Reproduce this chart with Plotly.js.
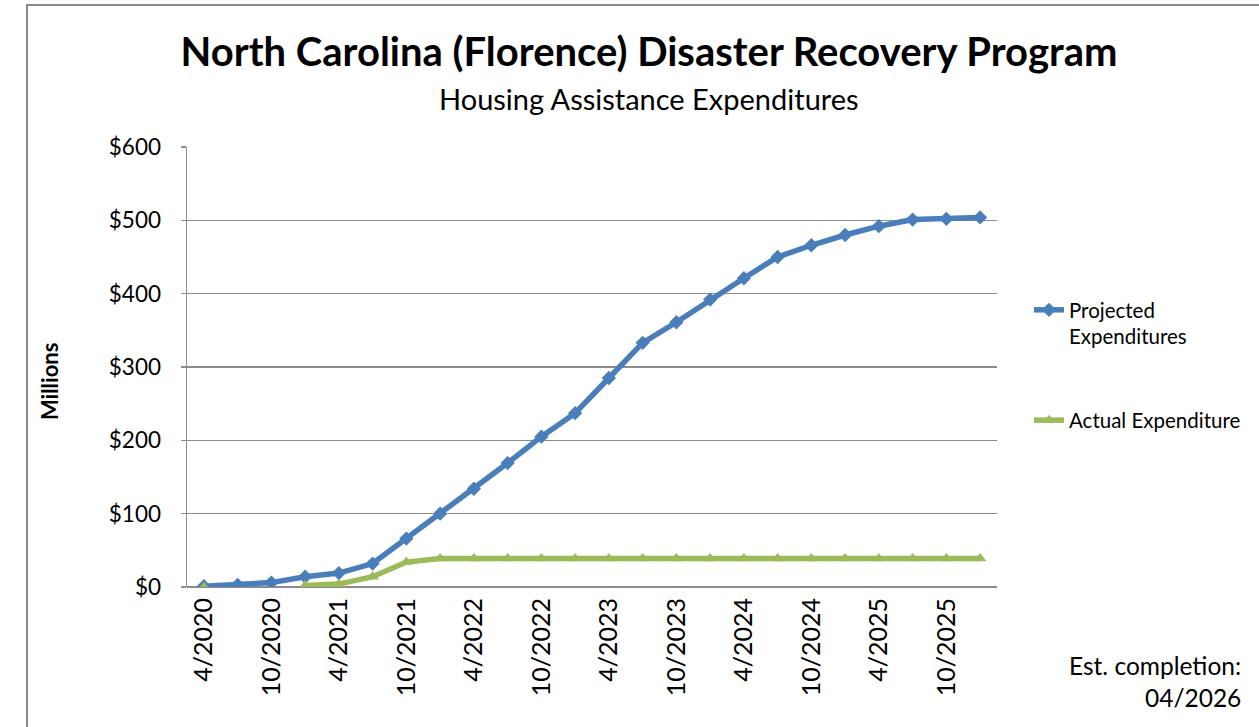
<!DOCTYPE html>
<html>
<head>
<meta charset="utf-8">
<script src="https://cdn.plot.ly/plotly-3.0.1.min.js"></script>
<style>html,body{margin:0;padding:0;background:#fff;}#chart{width:1259px;height:727px;}</style>
</head>
<body>
<div id="chart"></div>
<script>
const quarters = ['4/2020','7/2020','10/2020','1/2021','4/2021','7/2021','10/2021','1/2022','4/2022','7/2022','10/2022','1/2023','4/2023','7/2023','10/2023','1/2024','4/2024','7/2024','10/2024','1/2025','4/2025','7/2025','10/2025','1/2026'];
const tickLabels = ['4/2020','10/2020','4/2021','10/2021','4/2022','10/2022','4/2023','10/2023','4/2024','10/2024','4/2025','10/2025'];
const projected = [1,3,6,14,19,32,66,100,134,169,205,237,285,333,361,392,421,450,466,480,492,501,502,504];
const actual = [0,null,null,2,4,14,34,39,39,39,39,39,39,39,39,39,39,39,39,39,39,39,39,39];
const yTickVals = [0,100,200,300,400,500,600];
const yTickText = ['$0','$100','$200','$300','$400','$500','$600'];

const FONT = 'Lato, "Open Sans", sans-serif';

const traces = [
  {
    x: quarters, y: projected, type: 'scatter', mode: 'lines+markers',
    name: 'Projected<br>Expenditures', legendgroup: 'a',
    line: {color: '#4a7ebb', width: 5.5},
    marker: {symbol: 'diamond', size: 11, color: '#4a7ebb'}
  },
  {
    x: quarters, y: actual, type: 'scatter', mode: 'lines+markers',
    name: 'Actual Expenditure', legendgroup: 'b',
    line: {color: '#9bbb59', width: 5.5},
    marker: {symbol: 'triangle-up', size: 11, color: '#9bbb59'}
  }
];

const layout = {
  width: 1259, height: 727,
  margin: {l: 187, r: 262, t: 147, b: 140},
  paper_bgcolor: '#fff', plot_bgcolor: '#fff',
  font: {family: FONT, color: '#000'},
  title: {
    text: '<b>North Carolina (Florence) Disaster Recovery Program</b>',
    font: {family: FONT, size: 40, color: '#000'},
    xref: 'container', x: 0.5155, xanchor: 'center',
    yref: 'container', y: 0.928, yanchor: 'middle'
  },
  showlegend: true,
  legend: {
    x: 1.0395, xanchor: 'left', y: 0.675, yanchor: 'top',
    font: {family: FONT, size: 20.5, color: '#000'},
    tracegroupgap: 54, valign: 'top', bgcolor: 'rgba(0,0,0,0)'
  },
  xaxis: {
    type: 'category', range: [-0.5, 23.5],
    tickmode: 'array', tickvals: tickLabels, ticktext: tickLabels,
    tickangle: -90, tickfont: {family: FONT, size: 25, color: '#000'},
    showgrid: false, zeroline: false,
    showline: false, ticks: '', ticklabelstandoff: 5, fixedrange: true
  },
  yaxis: {
    range: [0, 600], tickmode: 'array', tickvals: yTickVals, ticktext: yTickText,
    tickfont: {family: FONT, size: 22.5, color: '#000'},
    showgrid: true, gridcolor: '#8c8c8c', gridwidth: 1.5,
    zeroline: true, zerolinecolor: '#8c8c8c', zerolinewidth: 1.5,
    showline: true, linecolor: '#8c8c8c', linewidth: 1.5,
    ticks: 'outside', ticklen: 5, tickcolor: '#8c8c8c', tickwidth: 1.5,
    ticklabelstandoff: 15, fixedrange: true
  },
  annotations: [
    {
      text: 'Housing Assistance Expenditures', showarrow: false,
      xref: 'paper', yref: 'paper', x: 0.570, y: 1.111, xanchor: 'center', yanchor: 'middle',
      font: {family: FONT, size: 29, color: '#000'}
    },
    {
      text: '<b>Millions</b>', showarrow: false, textangle: -90,
      xref: 'paper', yref: 'paper', x: -0.169, y: 0.466, xanchor: 'center', yanchor: 'middle',
      font: {family: FONT, size: 22, color: '#000'}
    },
    {
      text: 'Est. completion:', showarrow: false, align: 'right',
      xref: 'paper', yref: 'paper', x: 1.3037, y: -0.1773, xanchor: 'right', yanchor: 'middle',
      font: {family: FONT, size: 24.5, color: '#000'}
    },
    {
      text: '04/2026', showarrow: false, align: 'right',
      xref: 'paper', yref: 'paper', x: 1.3037, y: -0.25, xanchor: 'right', yanchor: 'middle',
      font: {family: FONT, size: 24.5, color: '#000'}
    }
  ],
  shapes: [
    {
      type: 'rect', xref: 'paper', yref: 'paper',
      x0: -0.1975, x1: 1.34, y0: -0.36, y1: 1.3227,
      line: {color: '#888', width: 2}, fillcolor: 'rgba(0,0,0,0)', layer: 'below'
    }
  ]
};

Plotly.newPlot('chart', traces, layout, {displayModeBar: false, staticPlot: true});
</script>
</body>
</html>
